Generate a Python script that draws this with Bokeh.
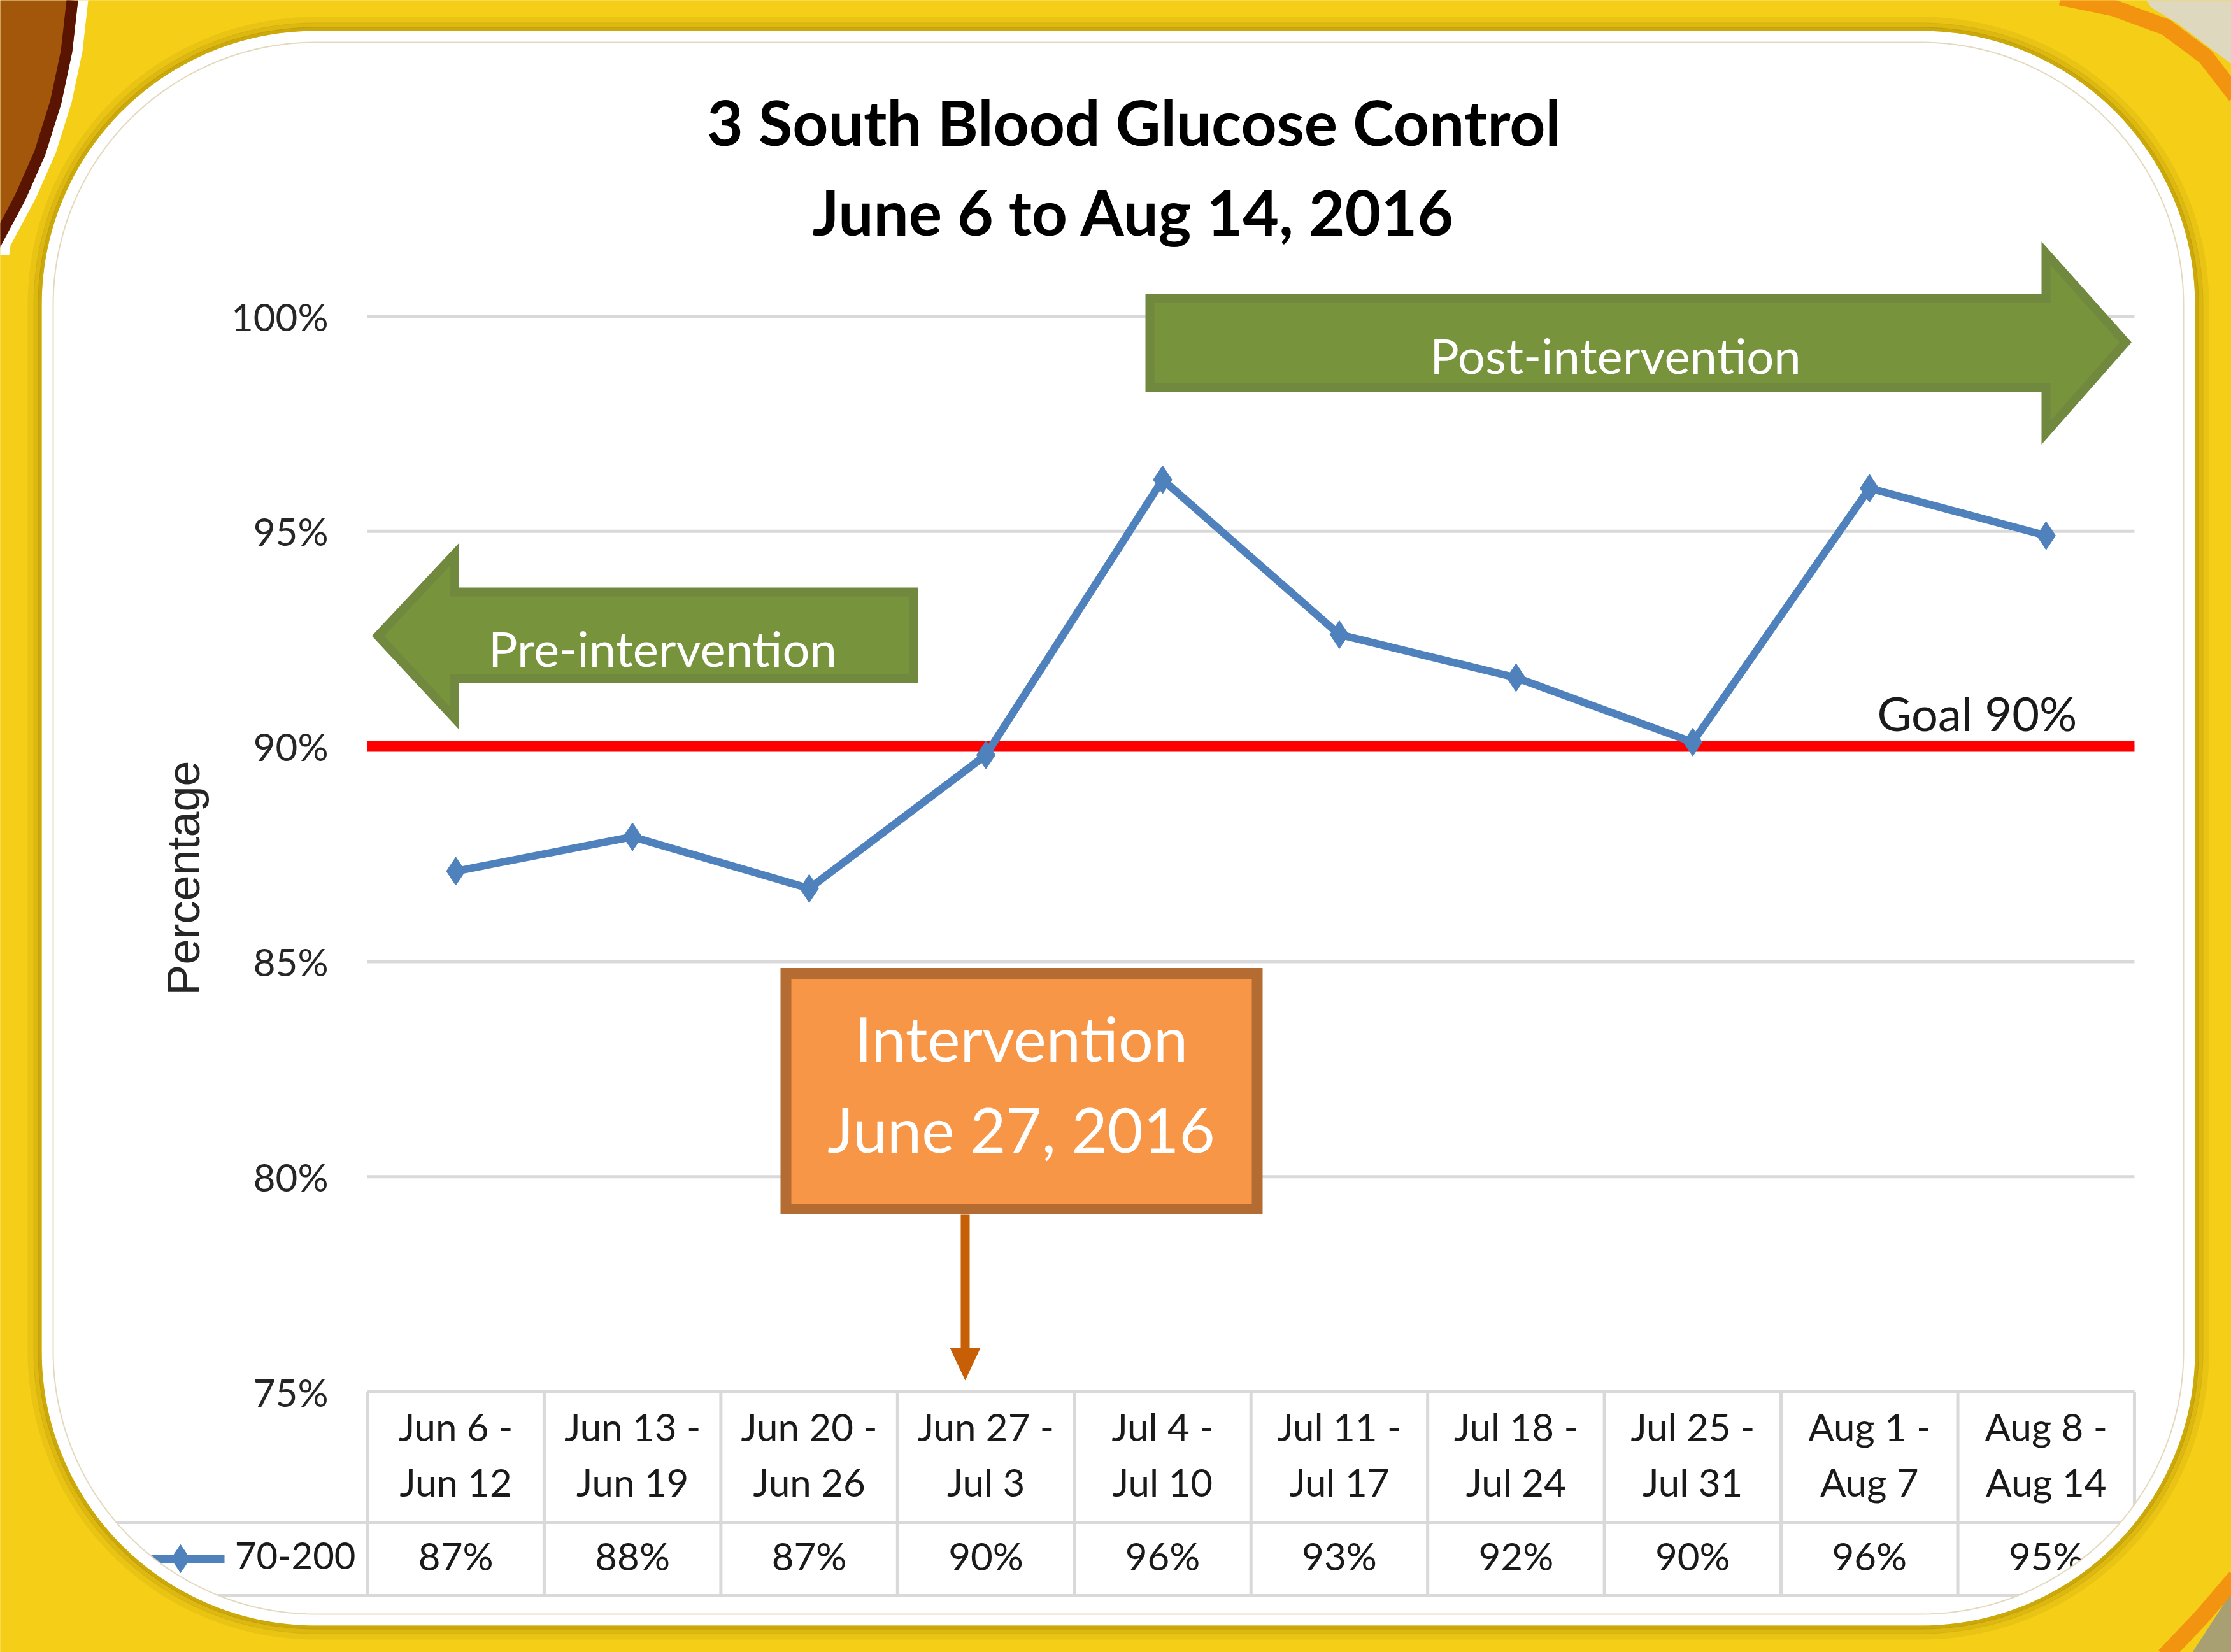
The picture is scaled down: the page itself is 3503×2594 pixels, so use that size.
import math
import numpy as np
from bokeh.plotting import figure
from bokeh.models import Range1d
from bokeh.core.properties import value
from bokeh.embed import file_html
from bokeh.resources import INLINE

# ---------------- data ----------------
TITLE_1 = "3 South Blood Glucose Control"
TITLE_2 = "June 6 to Aug 14, 2016"
WEEK_START = ["Jun 6 -", "Jun 13 -", "Jun 20 -", "Jun 27 -", "Jul 4 -",
              "Jul 11 -", "Jul 18 -", "Jul 25 -", "Aug 1 -", "Aug 8 -"]
WEEK_END = ["Jun 12", "Jun 19", "Jun 26", "Jul 3", "Jul 10",
            "Jul 17", "Jul 24", "Jul 31", "Aug 7", "Aug 14"]
SERIES_NAME = "70-200"
PCT_IN_RANGE = [87.1, 87.9, 86.7, 89.8, 96.2, 92.6, 91.6, 90.1, 96.0, 94.9]
GOAL = 90
GOAL_LABEL = "Goal 90%"
Y_TICKS = [75, 80, 85, 90, 95, 100]
Y_TICK_LABELS = ["75%", "80%", "85%", "90%", "95%", "100%"]
Y_LABEL = "Percentage"
PRE_LABEL = "Pre-intervention"
POST_LABEL = "Post-intervention"
INTERVENTION_LINES = ["Intervention", "June 27, 2016"]

IDX = list(range(len(PCT_IN_RANGE)))
TABLE_TEXT = [f"{round(v)}%" for v in PCT_IN_RANGE]

# ---------------- layout ----------------
W, H = 3503, 2594
MARGIN = 0
CAT0_PX, CAT_STEP_PX = 715.2, 277.45
Y75_PX, PX_PER_PCT = 2185.0, 67.56


def dx(X):
    return (X - CAT0_PX) / CAT_STEP_PX


def dy(Y):
    return 75 + (Y75_PX - Y) / PX_PER_PCT


def pts(seq):
    return [dx(a) for a, b in seq], [dy(b) for a, b in seq]


def rounded(l, t, r, b, rad, sx, n=48):
    out = [(sx, t)]
    for (cx, cy), a0, a1 in [((r - rad, t + rad), -90, 0), ((r - rad, b - rad), 0, 90),
                             ((l + rad, b - rad), 90, 180), ((l + rad, t + rad), 180, 270)]:
        for a in np.linspace(a0, a1, n):
            ar = math.radians(a)
            out.append((cx + rad * math.cos(ar), cy + rad * math.sin(ar)))
    out.append((sx, t))
    return out


YELLOW = "#F5CE17"
BLUE = "#4F81BD"
GRID = "#D9D9D9"
GREEN = "#77933C"
GREEN_EDGE = "#71883F"
ORANGE = "#F79646"
ORANGE_EDGE = "#B46C32"
ARROW = "#C65F05"
TXT = "#1A1A1A"
FONT = value("Lato")
REG = value("Liberation Sans")

p = figure(width=W, height=H,
           x_range=Range1d(dx(MARGIN), dx(MARGIN + W)),
           y_range=Range1d(dy(MARGIN + H), dy(MARGIN)),
           x_axis_type=None, y_axis_type=None, toolbar_location=None,
           output_backend="svg", min_border=0,
           background_fill_color=YELLOW, border_fill_color=YELLOW,
           outline_line_color=None)

# panel geometry
PL, PT, PR, PB, PRAD = 65, 48, 3446, 2552, 430
INSET = 18
SX = 1780

# white panel
xs, ys = pts(rounded(PL, PT, PR, PB, PRAD, SX))
p.patch(xs, ys, fill_color="white", line_color=None)

# ---------------- chart content ----------------
# gridlines
p.multi_line(xs=[[-0.5, 9.5] for _ in Y_TICKS], ys=[[t, t] for t in Y_TICKS],
             line_color=GRID, line_width=5)

# Post-intervention arrow
post = [(1805, 468), (3212, 468), (3212, 397), (3337, 537), (3212, 679), (3212, 608), (1805, 608)]
xs, ys = pts(post)
p.patch(xs, ys, fill_color=GREEN, line_color=GREEN_EDGE, line_width=14, line_join="miter")
# Pre-intervention arrow
pre = [(593, 998), (713, 870), (713, 929), (1434, 929), (1434, 1065), (713, 1065), (713, 1127)]
xs, ys = pts(pre)
p.patch(xs, ys, fill_color=GREEN, line_color=GREEN_EDGE, line_width=14, line_join="miter")

p.text(x=[dx(2536), dx(1040)], y=[dy(557), dy(1017)], text=[POST_LABEL, PRE_LABEL],
       text_font=FONT, text_font_size=value("76px"), text_color="white",
       text_align="center", text_baseline="middle")

# Intervention box
p.quad(left=[dx(1225 + 8.5)], right=[dx(1982 - 8.5)], top=[dy(1519 + 9)], bottom=[dy(1907 - 9)],
       fill_color=ORANGE, line_color=ORANGE_EDGE, line_width=17, line_join="miter")
p.text(x=[dx(1603), dx(1603)], y=[dy(1629), dy(1772)], text=INTERVENTION_LINES,
       text_font=FONT, text_font_size=value("97px"), text_color="white",
       text_align="center", text_baseline="middle")
p.line([dx(1515), dx(1515)], [dy(1907), dy(2122)], line_color=ARROW, line_width=14)
xs, ys = pts([(1491, 2116), (1539, 2116), (1515, 2167)])
p.patch(xs, ys, fill_color=ARROW, line_color=None)

# goal line + label
p.line([-0.5, 9.5], [GOAL, GOAL], line_color="#FF0000", line_width=17)
p.text(x=[dx(2947)], y=[dy(1119)], text=[GOAL_LABEL], text_font=FONT,
       text_font_size=value("74px"), text_color=TXT, text_align="left", text_baseline="middle")

# data series
p.line(IDX, PCT_IN_RANGE, line_color=BLUE, line_width=12, line_join="round")
p.scatter(IDX, PCT_IN_RANGE, marker="diamond", size=44, fill_color=BLUE, line_color=BLUE)

# data table
p.multi_line(xs=[[i - 0.5, i - 0.5] for i in range(len(IDX) + 1)],
             ys=[[75, dy(2505)] for _ in range(len(IDX) + 1)], line_color=GRID, line_width=5)
p.multi_line(xs=[[dx(100), 9.5], [dx(100), 9.5]], ys=[[dy(2390)] * 2, [dy(2505)] * 2],
             line_color=GRID, line_width=5)
for row_y, labels in [(2239, WEEK_START), (2326, WEEK_END), (2442, TABLE_TEXT)]:
    p.text(x=IDX, y=[dy(row_y)] * len(IDX), text=labels, text_font=FONT,
           text_font_size=value("60px"), text_color=TXT, text_align="center", text_baseline="middle")
p.text(x=[dx(558)], y=[dy(2442)], text=[SERIES_NAME], text_font=FONT,
       text_font_size=value("58px"), text_color=TXT, text_align="right", text_baseline="middle")
p.line([dx(230), dx(352)], [dy(2447)] * 2, line_color=BLUE, line_width=13)
p.scatter([dx(283)], [dy(2447)], marker="diamond", size=44, fill_color=BLUE, line_color=BLUE)

# y tick labels, axis title
p.text(x=[dx(515)] * len(Y_TICKS), y=Y_TICKS, text=Y_TICK_LABELS, text_font=FONT,
       text_font_size=value("60px"), text_color="#262626", text_align="right", text_baseline="middle")
p.text(x=[dx(287)], y=[dy(1378)], text=[Y_LABEL], angle=math.pi / 2, text_font=REG,
       text_font_size=value("72px"), text_color="#262626", text_align="center", text_baseline="middle")

# title
p.text(x=[dx(1780), dx(1780)], y=[dy(190), dy(331)], text=[TITLE_1, TITLE_2], text_font=FONT,
       text_font_style="bold", text_font_size=value("98px"), text_color="black",
       text_align="center", text_baseline="middle")

# ---------------- panel frame & background ----------------
outer_pts = rounded(PL, PT, PR, PB, PRAD, SX)
inner_pts = rounded(PL + INSET, PT + INSET, PR - INSET, PB - INSET, PRAD - INSET, SX)
xs, ys = pts(outer_pts + inner_pts[::-1])
p.patch(xs, ys, fill_color="white", line_color=None)
xs, ys = pts(inner_pts)
p.line(xs, ys, line_color="#E3D9BD", line_width=2)

canvas = [(SX, -60), (3600, -60), (3600, 2700), (-100, 2700), (-100, -60), (SX, -60)]
xs, ys = pts(canvas + outer_pts[::-1])
p.patch(xs, ys, fill_color=YELLOW, line_color=None)

for d, w, a in [(3, 6, 0.55), (9, 8, 0.32), (17, 10, 0.15)]:
    xs, ys = pts(rounded(PL - d, PT - d, PR + d, PB + d, PRAD + d, SX))
    p.line(xs, ys, line_color="#A88A06", line_alpha=a, line_width=w)

# top-left brown swoosh
curve = [(122, 0), (113, 80), (96, 160), (71, 240), (40, 310), (0, 385)]
white_curve = [(x + 16, y) for x, y in curve]
xs, ys = pts([(-20, -20)] + [(140, -20)] + white_curve + [(14, 400), (-20, 400)])
p.patch(xs, ys, fill_color="white", line_color=None)
xs, ys = pts([(-20, -20), (122, -20)] + curve + [(-20, 400)])
p.patch(xs, ys, fill_color="#A2570A", line_color=None)
xs, ys = pts([(x - 9, y) for x, y in curve])
p.line(xs, ys, line_color="#5A1402", line_width=18)

# top-right beige + orange band
xs, ys = pts([(3355, -20), (3520, -20), (3520, 112), (3468, 74), (3418, 36), (3378, 12)])
p.patch(xs, ys, fill_color="#DDD8BE", line_color=None)
xs, ys = pts([(3235, -5), (3318, 12), (3400, 42), (3462, 88), (3510, 150)])
p.line(xs, ys, line_color="#F39410", line_width=26)

# bottom-right olive + orange band
xs, ys = pts([(3438, 2600), (3520, 2600), (3520, 2495), (3503, 2500)])
p.patch(xs, ys, fill_color="#A89F72", line_color=None)
xs, ys = pts([(3398, 2600), (3455, 2540), (3510, 2476)])
p.line(xs, ys, line_color="#F39410", line_width=26)

open("out.html", "w").write(file_html(p, INLINE))
